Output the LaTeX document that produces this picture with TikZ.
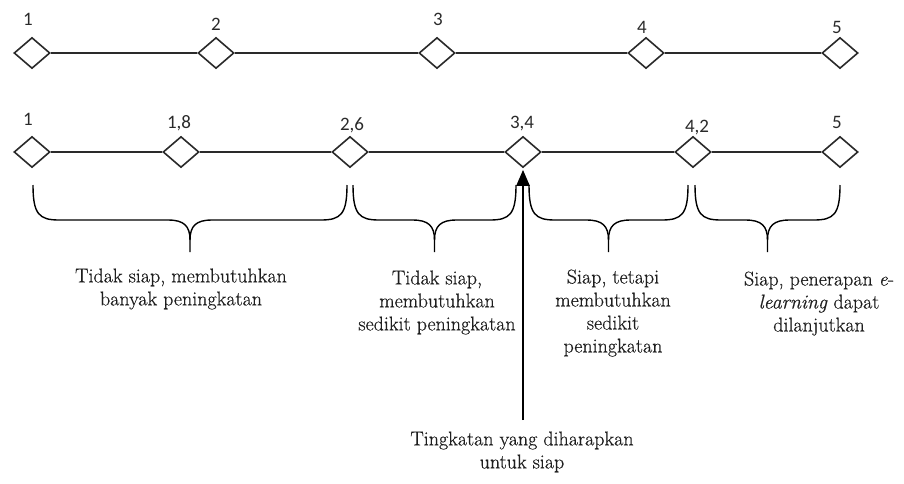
\documentclass[tikz,border=0pt]{standalone}
\usepackage{fontspec}
\newfontfamily\numfont{Carlito}
\newfontfamily\serifl[FakeBold=0.5]{Latin Modern Roman}
\usetikzlibrary{shapes.geometric,arrows.meta}
\definecolor{linec}{HTML}{2A2A2A}
\definecolor{textc}{HTML}{1E1E1E}
\begin{document}
\begin{tikzpicture}[x=1pt,y=-1pt,
  dia/.style={diamond, draw=linec, line width=1.6pt, fill=white, minimum width=36pt, minimum height=31pt, inner sep=0pt},
  num/.style={font=\numfont\fontsize{19}{20}\selectfont, text=linec, anchor=base, inner sep=0pt},
  axis/.style={draw=linec, line width=1.6pt},
  brc/.style={draw=black, line width=1.4pt},
  lab/.style={font=\serifl\fontsize{20}{23}\selectfont, text=textc, align=center, anchor=north, inner sep=0pt},
]
\useasboundingbox (0,0) rectangle (904,483);

% top scale
\node[dia] (a1) at (32,53) {};
\node[dia] (a2) at (216,53) {};
\node[dia] (a3) at (437,53) {};
\node[dia] (a4) at (646,53) {};
\node[dia] (a5) at (840,53) {};
\draw[axis] (a1) -- (a2);
\draw[axis] (a2) -- (a3);
\draw[axis] (a3) -- (a4);
\draw[axis] (a4) -- (a5);
\node[num] (la1) at (28,25) {1};
\node[num] (la2) at (216,30) {2};
\node[num] (la3) at (438,25) {3};
\node[num] (la4) at (642,33) {4};
\node[num] (la5) at (837,33) {5};

% bottom scale
\node[dia] (b1) at (32,152) {};
\node[dia] (b2) at (181,152) {};
\node[dia] (b3) at (350,152) {};
\node[dia] (b4) at (523,152) {};
\node[dia] (b5) at (693,152) {};
\node[dia] (b6) at (840,152) {};
\draw[axis] (b1) -- (b2);
\draw[axis] (b2) -- (b3);
\draw[axis] (b3) -- (b4);
\draw[axis] (b4) -- (b5);
\draw[axis] (b5) -- (b6);
\node[num] (lb1) at (28,125) {1};
\node[num] (lb2) at (179,128) {1,8};
\node[num] (lb3) at (352,130) {2,6};
\node[num] (lb4) at (522,128) {3,4};
\node[num] (lb5) at (697,132) {4,2};
\node[num] (lb6) at (837,128) {5};

% braces
\foreach \l/\r in {33/347, 353/516, 529/688, 695/840} {
  \pgfmathsetmacro\m{(\l+\r)/2}
  \draw[brc] (\l,185) .. controls (\l,214) and (\l+6,220) .. (\l+26,220) -- (\m-22,220) .. controls (\m-6,220) and (\m,226) .. (\m,240) -- (\m,252);
  \draw[brc] (\r,185) .. controls (\r,214) and (\r-6,220) .. (\r-26,220) -- (\m+22,220) .. controls (\m+6,220) and (\m,226) .. (\m,240);
}

% labels
\node[lab] (t1) at (181,268.3) {Tidak siap, membutuhkan\\banyak peningkatan};
\node[lab] (t2) at (437,270.3) {Tidak siap,\\membutuhkan\\sedikit peningkatan};
\node[lab] (t3) at (613,269.3) {Siap, tetapi\\membutuhkan\\sedikit\\peningkatan};
\node[lab] (t4) at (819,271.3) {Siap, penerapan \emph{e}-\\\emph{learning} dapat\\dilanjutkan};
\node[lab] (t5) at (522,431.3) {Tingkatan yang diharapkan\\untuk siap};

% arrow
\coordinate (as) at (523,420);
\draw[black, line width=2.4pt, -{Triangle[length=16pt,width=13pt]}, shorten >=1.5pt] (as) -- (as |- b4.south);
\end{tikzpicture}
\end{document}
